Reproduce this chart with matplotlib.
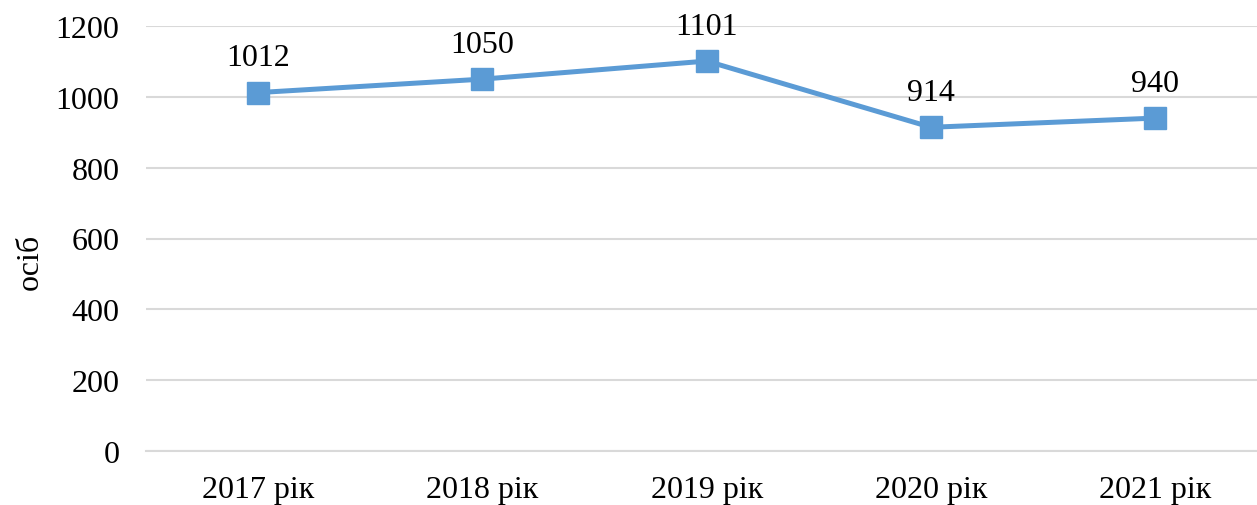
import matplotlib
matplotlib.use("Agg")
import matplotlib.pyplot as plt

categories = ["2017 рік", "2018 рік", "2019 рік", "2020 рік", "2021 рік"]
values = [1012, 1050, 1101, 914, 940]
yticks = [0, 200, 400, 600, 800, 1000, 1200]

plt.rcParams['font.family'] = ['Liberation Serif', 'DejaVu Serif']

W, H = 1257, 506
fig = plt.figure(figsize=(W/100, H/100), dpi=100)
left, right, bottom, top = 146, 1257, 452, 27
ax = fig.add_axes([left/W, (H-bottom)/H, (right-left)/W, (bottom-top)/H])

band = 224.3
x = list(range(len(categories)))
ax.set_xlim(-0.5, (right-left)/band - 0.5)
ax.set_ylim(0, 1200)

fs = 23
color = '#5B9BD5'
ax.plot(x, values, color=color, lw=3.6, marker='s', ms=16, zorder=3, clip_on=False)
for xi, v in zip(x, values):
    ax.annotate(str(v), (xi, v), xytext=(0, 25), textcoords='offset points',
                ha='center', va='center', fontsize=fs, color='black')

ax.set_yticks(yticks)
ax.set_yticklabels([str(t) for t in yticks])
ax.set_xticks(x)
ax.set_xticklabels(categories)
ax.tick_params(axis='both', length=0, labelsize=fs, colors='black')
ax.tick_params(axis='y', pad=19)
ax.tick_params(axis='x', pad=17)
ax.grid(axis='y', color='#D9D9D9', lw=1.5)
ax.set_axisbelow(True)
for s in ['top', 'right', 'left']:
    ax.spines[s].set_visible(False)
ax.spines['bottom'].set_color('#D9D9D9')
ax.spines['bottom'].set_linewidth(1.5)

fig.text(30/W, 1 - 262/H, 'осіб', rotation=90, ha='center', va='center', fontsize=fs)

fig.savefig('out.png', dpi=100)
